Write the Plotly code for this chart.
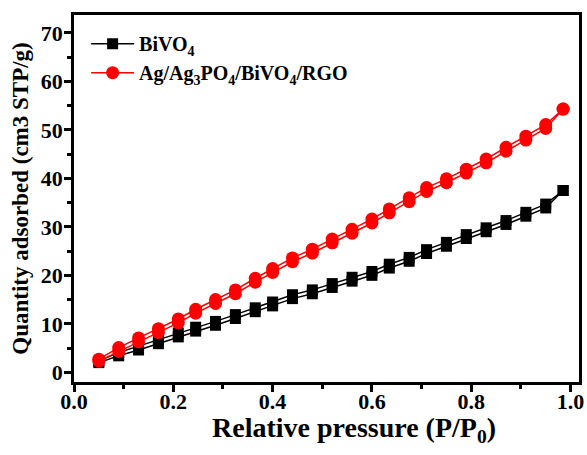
import plotly.graph_objects as go

# Relative pressure (P/P0)
pressure = [0.05, 0.09, 0.13, 0.17, 0.21, 0.245, 0.285, 0.325, 0.365, 0.40, 0.44, 0.48,
            0.52, 0.56, 0.60, 0.635, 0.675, 0.71, 0.75, 0.79, 0.83, 0.87, 0.91, 0.95, 0.985]

# BiVO4 adsorption / desorption branches
bivo4_ads = [2.0, 3.4, 4.6, 5.9, 7.3, 8.5, 9.7, 11.1, 12.5, 13.7, 15.2, 16.2, 17.5,
             18.8, 20.0, 21.5, 22.9, 24.5, 26.0, 27.6, 29.0, 30.5, 32.2, 33.9, 37.5]
bivo4_des = [2.3, 4.1, 5.4, 6.7, 8.1, 9.3, 10.5, 11.9, 13.3, 14.5, 16.0, 17.0, 18.3,
             19.6, 20.8, 22.3, 23.7, 25.3, 26.8, 28.4, 29.8, 31.3, 33.0, 34.7, 37.5]

# Ag/Ag3PO4/BiVO4/RGO adsorption / desorption branches
comp_ads = [2.3, 4.3, 6.3, 8.2, 10.2, 12.2, 14.2, 16.2, 18.6, 20.6, 22.8, 24.6, 26.7,
            28.7, 30.8, 32.9, 35.2, 37.3, 39.1, 41.1, 43.2, 45.6, 47.9, 50.3, 54.3]
comp_des = [2.7, 5.1, 7.1, 9.0, 11.0, 13.0, 15.0, 17.0, 19.4, 21.4, 23.6, 25.4, 27.5,
            29.5, 31.6, 33.7, 36.0, 38.1, 39.9, 41.9, 44.0, 46.4, 48.7, 51.1, 54.3]

x_ticks = [0.0, 0.2, 0.4, 0.6, 0.8, 1.0]
x_tick_labels = ["0.0", "0.2", "0.4", "0.6", "0.8", "1.0"]
y_ticks = [0, 10, 20, 30, 40, 50, 60, 70]

name_bivo4 = "BiVO<sub>4</sub>"
name_comp = "Ag/Ag<sub>3</sub>PO<sub>4</sub>/BiVO<sub>4</sub>/RGO"

FONT = "Liberation Serif"

fig = go.Figure()

fig.add_trace(go.Scatter(x=pressure, y=bivo4_des, mode="lines+markers", showlegend=False,
                         line=dict(color="black", width=1.5),
                         marker=dict(symbol="square", size=11, color="black")))
fig.add_trace(go.Scatter(x=pressure, y=bivo4_ads, mode="lines+markers", name=name_bivo4,
                         line=dict(color="black", width=1.5),
                         marker=dict(symbol="square", size=11, color="black")))
fig.add_trace(go.Scatter(x=pressure, y=comp_des, mode="lines+markers", showlegend=False,
                         line=dict(color="#ff0000", width=1.5),
                         marker=dict(symbol="circle", size=13, color="#ff0000")))
fig.add_trace(go.Scatter(x=pressure, y=comp_ads, mode="lines+markers", name=name_comp,
                         line=dict(color="#ff0000", width=1.5),
                         marker=dict(symbol="circle", size=13, color="#ff0000")))

axis_common = dict(
    showline=True, linecolor="black", linewidth=2.5, mirror=True,
    ticks="outside", ticklen=7, tickwidth=2.5, tickcolor="black",
    showgrid=False, zeroline=False,
    tickfont=dict(family=FONT, size=22, color="black", weight="bold"),
)

fig.update_xaxes(range=[0, 1.017], tickmode="array",
                 tickvals=x_ticks, ticktext=x_tick_labels,
                 ticklabelstandoff=-9,
                 minor=dict(ticks="outside", ticklen=4, tickwidth=2.5, tickcolor="black",
                            dtick=0.1, showgrid=False),
                 **axis_common)
fig.update_yaxes(range=[-2, 73.7], tickmode="array",
                 tickvals=y_ticks,
                 ticklabelstandoff=-3,
                 minor=dict(ticks="outside", ticklen=4, tickwidth=2.5, tickcolor="black",
                            dtick=5, showgrid=False),
                 title=dict(text="Quantity adsorbed (cm3 STP/g)",
                            font=dict(family=FONT, size=23, color="black", weight="bold"),
                            standoff=6),
                 **axis_common)

fig.add_annotation(text="Relative pressure (P/P<sub>0</sub>)",
                   xref="paper", yref="paper", x=0.554, y=-0.076,
                   xanchor="center", yanchor="top", showarrow=False,
                   font=dict(family=FONT, size=28, color="black", weight="bold"))

fig.update_layout(
    width=587, height=455,
    margin=dict(l=74, r=8, t=15, b=73, autoexpand=False),
    paper_bgcolor="white", plot_bgcolor="white",
    legend=dict(x=0.024, y=0.975, xanchor="left", yanchor="top",
                bgcolor="rgba(0,0,0,0)",
                font=dict(family=FONT, size=20, color="black", weight="bold"),
                tracegroupgap=0, itemwidth=43),
)

fig.write_html("out.html", config={"displayModeBar": False},
               post_script="document.body.style.margin='0';document.body.style.padding='0';")
